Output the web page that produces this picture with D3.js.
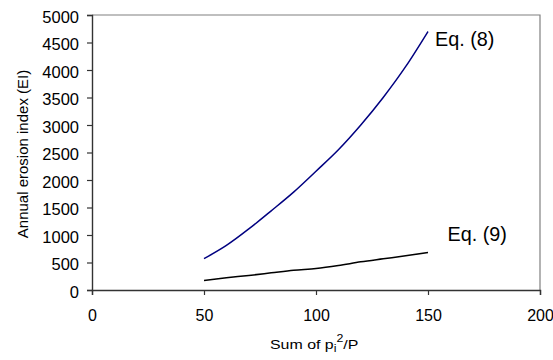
<!DOCTYPE html>
<html><head><meta charset="utf-8">
<script src="https://cdn.jsdelivr.net/npm/d3@7"></script>
<style>body{margin:0;background:#fff}svg{display:block}text{font-family:"Liberation Sans",Arial,sans-serif}</style>
</head><body><svg id="c" width="553" height="360"></svg>
<script>
const xValues = [50, 60, 70, 80, 90, 100, 110, 120, 130, 140, 150];
const eq8 = [570, 810, 1110, 1440, 1780, 2160, 2550, 3000, 3500, 4060, 4700];
const eq9 = [173, 222, 264, 312, 360, 391, 445, 512, 567, 621, 682];
const xTicks = [0, 50, 100, 150, 200];
const yTicks = [0, 500, 1000, 1500, 2000, 2500, 3000, 3500, 4000, 4500, 5000];
const seriesLabels = ["Eq. (8)", "Eq. (9)"];

const svg = d3.select("#c");
const L = 92, R = 540, T = 15, B = 290;
const x = d3.scaleLinear().domain([0, 200]).range([L, R]);
const y = d3.scaleLinear().domain([0, 5000]).range([B, T]);

// frame top/right
svg.append("path").attr("d", `M${L},${T}H${R}V${B}`).attr("fill", "none").attr("stroke", "#808080").attr("stroke-width", 1.2);

const yAxis = svg.append("g").attr("transform", `translate(${L},0)`)
  .call(d3.axisLeft(y).tickValues(yTicks).tickSize(5).tickPadding(8).tickFormat(d3.format("d")));
const xAxis = svg.append("g").attr("transform", `translate(0,${B})`)
  .call(d3.axisBottom(x).tickValues(xTicks).tickSize(5).tickPadding(15).tickFormat(d3.format("d")));
[yAxis, xAxis].forEach(g => {
  g.selectAll("path.domain").attr("stroke", "#333").attr("stroke-width", 1.4);
  g.selectAll(".tick line").attr("stroke", "#333").attr("stroke-width", 1.2);
  g.selectAll("text").attr("fill", "#000");
});
yAxis.selectAll("text").attr("font-size", 16.5).attr("dy", "0.45em");
xAxis.selectAll("text").attr("font-size", 16);

const line = d3.line().x((d, i) => x(xValues[i])).y(d => y(d)).curve(d3.curveMonotoneX);
svg.append("path").datum(eq8).attr("d", line).attr("fill", "none").attr("stroke", "#000080").attr("stroke-width", 1.5);
svg.append("path").datum(eq9).attr("d", line).attr("fill", "none").attr("stroke", "#000").attr("stroke-width", 1.5);

svg.append("text").attr("x", x(150) + 7).attr("y", 45.5).attr("font-size", 19.8).text(seriesLabels[0]);
svg.append("text").attr("x", x(150) + 19.5).attr("y", 241).attr("font-size", 19.8).text(seriesLabels[1]);

// axis titles
const xt = svg.append("g").attr("transform", "translate(270,349) scale(1.18,1)")
  .append("text").attr("font-size", 13.5);
xt.append("tspan").text("Sum of  p");
xt.append("tspan").attr("font-size", 10.5).attr("dy", 3).text("i");
xt.append("tspan").attr("font-size", 10.5).attr("dy", -10).text("2");
xt.append("tspan").attr("dy", 7).text("/P");

svg.append("text").attr("transform", `translate(28,154) rotate(-90)`).attr("text-anchor", "middle")
  .attr("font-size", 15).text("Annual erosion index (EI)");
</script></body></html>
